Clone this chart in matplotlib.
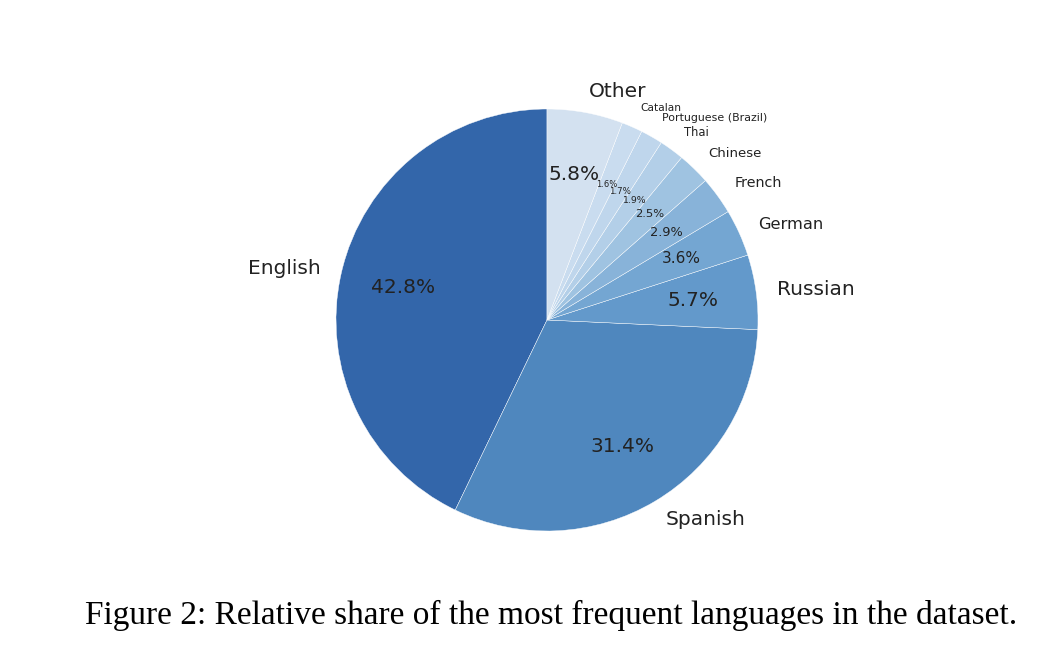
import numpy as np
import matplotlib
matplotlib.use("Agg")
import matplotlib.pyplot as plt

# language shares (%), counterclockwise from the top
languages = ["English", "Spanish", "Russian", "German", "French", "Chinese",
             "Thai", "Portuguese (Brazil)", "Catalan", "Other"]
shares = [42.8, 31.4, 5.7, 3.6, 2.9, 2.5, 1.9, 1.7, 1.6, 5.8]

colors = ["#3366aa", "#4f87be", "#6399cb", "#74a6d2", "#88b3d9",
          "#9fc3e1", "#b3cfe8", "#bfd6ec", "#c9dcef", "#d3e1f0"]

fig = plt.figure(figsize=(10.56, 6.5), dpi=100)
# square box so the pie sits at (547, 320) with radius ~211 px
ax = fig.add_axes([336 / 1056, 119 / 650, 422 / 1056, 422 / 650])

wedges, texts, autotexts = ax.pie(
    shares, labels=languages, colors=colors, startangle=90,
    autopct="%1.1f%%", pctdistance=0.7, labeldistance=1.1,
    wedgeprops=dict(edgecolor="white", linewidth=0.3))
ax.set_xlim(-1, 1)
ax.set_ylim(-1, 1)
ax.set_aspect("equal")

# text size grows with the wedge size
for t, s in zip(texts, shares):
    t.set_fontsize(min(14.5, 4.5 + 2 * s))
    t.set_color("#222222")
for t, s in zip(autotexts, shares):
    t.set_fontsize(min(14.5, 2 + 2.5 * s))
    t.set_color("#222222")

fig.text(551 / 1056, 1 - 615 / 650,
         "Figure 2: Relative share of the most frequent languages in the dataset.",
         ha="center", va="center", fontsize=24, family="Liberation Serif")

fig.savefig("out.png", dpi=100)
